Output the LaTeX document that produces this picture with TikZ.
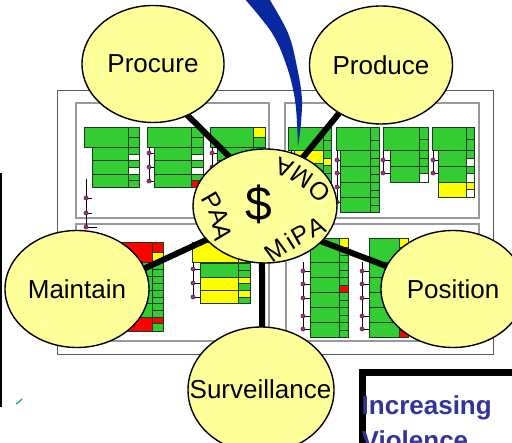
\documentclass[tikz,border=0pt]{standalone}
\usepackage{fontspec}
\setmainfont{Liberation Sans}
\usetikzlibrary{shapes.geometric}
\definecolor{ell}{HTML}{FFFF99}
\definecolor{cg}{HTML}{33CC33}
\definecolor{cy}{HTML}{FFFF00}
\definecolor{cr}{HTML}{FF0000}
\definecolor{cedge}{HTML}{1E3A1E}
\definecolor{dotc}{HTML}{A03080}
\definecolor{swoosh}{RGB}{8,40,160}
\definecolor{vblue}{HTML}{333399}
\definecolor{markc}{RGB}{0,160,160}
\pgfdeclarelayer{charts}
\pgfdeclarelayer{links}
\pgfsetlayers{charts,links,main}
\tikzset{
  bubble/.style={ellipse, draw=black, line width=1.4, fill=ell, inner sep=0, font=\fontsize{26}{30}\selectfont},
  gcell/.style={fill=cg, draw=cedge, line width=0.6},
  ycell/.style={fill=cy, draw=cedge, line width=0.6},
  rcell/.style={fill=cr, draw=cedge, line width=0.6},
  wcell/.style={fill=white, draw=cedge, line width=0.6},
  frame/.style={draw=black!65, line width=0.9},
  panel/.style={draw=black!40, line width=1.3},
  orgline/.style={draw=black, line width=0.7},
  link/.style={line width=6, shorten <=-6pt, shorten >=-6pt},
  letter/.style={font=\fontsize{25}{30}\selectfont, inner sep=0},
}
\newcommand\orgdot[3]{\draw[orgline] (#1,#2) -- (#3,#2);
  \filldraw[fill=dotc, draw=dotc!50!black, line width=0.4] (#1,#2) circle (2.1);}
\begin{document}
\begin{tikzpicture}[x=1pt,y=-1pt]
\useasboundingbox (0,0) rectangle (512,443);
\begin{pgfonlayer}{charts}
\fill[white] (0,0) rectangle (512,443);
% frames
\draw[frame] (57,90) rectangle (493,354);
\draw[panel] (76,103) rectangle (269,218);
\draw[panel] (285,103) rectangle (479,218);
\draw[panel] (76,224) rectangle (269,341);
\draw[panel] (286,224) rectangle (479,341);
% ---- A1
\draw[gcell] (84,127) rectangle (128,147);
\draw[gcell] (128,127) rectangle (139,137);
\draw[gcell] (128,137) rectangle (139,147);
\foreach \a/\b in {147/160,160/174,174/187} \draw[gcell] (92,\a) rectangle (128,\b);
\foreach \a/\b/\s in {147/154/gcell,154/160/wcell,160/167/gcell,167/174/wcell,174/180/gcell,180/187/gcell}
  \draw[\s] (128,\a) rectangle (139,\b);
\draw[orgline] (86,179) -- (86,227);
\orgdot{86}{198}{92}\orgdot{86}{213}{92}\orgdot{86}{227}{97}
% ---- A2
\draw[gcell] (147,127) rectangle (191,147);
\draw[gcell] (191,127) rectangle (203,137);
\draw[gcell] (191,137) rectangle (203,147);
\foreach \a/\b in {147/160,160/174,174/187} \draw[gcell] (154,\a) rectangle (191,\b);
\foreach \a/\b/\s in {147/154/gcell,154/160/wcell,160/167/gcell,167/174/wcell,174/180/gcell,180/187/rcell}
  \draw[\s] (191,\a) rectangle (203,\b);
\draw[orgline] (149,147) -- (149,181);
\orgdot{149}{153}{154}\orgdot{149}{167}{154}\orgdot{149}{181}{154}
% ---- A3
\draw[gcell] (210,127) rectangle (253,147);
\draw[ycell] (253,127) rectangle (265,137);
\draw[gcell] (253,137) rectangle (265,147);
\draw[gcell] (217,147) rectangle (253,160);
\draw[ycell] (217,160) rectangle (253,174);
\draw[gcell] (217,174) rectangle (253,187);
\foreach \a/\b/\s in {147/154/gcell,154/160/wcell,160/167/gcell,167/174/ycell,174/187/gcell}
  \draw[\s] (253,\a) rectangle (265,\b);
\draw[orgline] (212,147) -- (212,167);
\orgdot{212}{153}{217}\orgdot{212}{167}{217}
% ---- B1
\draw[gcell] (288,127) rectangle (323,150);
\draw[gcell] (323,127) rectangle (331,140);
\draw[gcell] (323,140) rectangle (331,150);
\draw[ycell] (294,150) rectangle (323,163);
\draw[gcell] (294,163) rectangle (323,176);
\draw[gcell] (294,176) rectangle (323,189);
\foreach \a/\b/\s in {150/158/gcell,158/165/ycell,165/173/gcell,173/181/gcell,181/189/gcell}
  \draw[\s] (323,\a) rectangle (331,\b);
\draw[orgline] (291,150) -- (291,176);
% ---- B2
\draw[gcell] (336,127) rectangle (370,150);
\draw[gcell] (370,127) rectangle (379,140);
\draw[gcell] (370,140) rectangle (379,150);
\foreach \a/\b in {150/166,166/182,182/197,197/212} \draw[gcell] (340,\a) rectangle (370,\b);
\foreach \a/\b in {150/158,158/166,166/174,174/182,182/190,190/197,197/205,205/212}
  \draw[gcell] (370,\a) rectangle (379,\b);
\draw[orgline] (337,150) -- (337,202);
\orgdot{337}{160}{340}\orgdot{337}{173}{340}\orgdot{337}{187}{340}\orgdot{337}{202}{340}
% ---- B3
\draw[gcell] (383,127) rectangle (419,150);
\draw[gcell] (419,127) rectangle (428,139);
\draw[gcell] (419,139) rectangle (428,150);
\foreach \a/\b in {150/166,166/182} \draw[gcell] (390,\a) rectangle (419,\b);
\foreach \a/\b/\s in {150/158/gcell,158/166/gcell,166/173/gcell,173/182/wcell}
  \draw[\s] (419,\a) rectangle (428,\b);
\draw[orgline] (383,150) -- (383,173);
\orgdot{383}{160}{390}\orgdot{383}{173}{390}
% ---- B4
\draw[gcell] (432,127) rectangle (466,150);
\draw[gcell] (466,127) rectangle (474,139);
\draw[gcell] (466,139) rectangle (474,150);
\draw[gcell] (438,150) rectangle (466,166);
\draw[gcell] (438,166) rectangle (466,182);
\draw[ycell] (438,182) rectangle (466,197);
\foreach \a/\b/\s in {150/158/gcell,158/166/wcell,166/173/gcell,173/182/wcell,182/189/ycell,189/197/wcell}
  \draw[\s] (466,\a) rectangle (474,\b);
\draw[orgline] (433,150) -- (433,173);
\orgdot{433}{160}{438}\orgdot{433}{173}{438}
% ---- C1
\draw[rcell] (110,242) rectangle (152,262);
\draw[rcell] (152,242) rectangle (163,252);
\draw[ycell] (152,252) rectangle (163,262);
\foreach \a/\b in {262/276,276/290,290/303,303/317} \draw[gcell] (113,\a) rectangle (152,\b);
\draw[rcell] (113,317) rectangle (152,331);
\foreach \a/\b/\s in {262/269/gcell,269/276/gcell,276/283/gcell,283/290/gcell,290/297/gcell,297/303/gcell,303/310/gcell,310/317/gcell,317/323/rcell,323/331/gcell}
  \draw[\s] (152,\a) rectangle (163,\b);
% ---- C2
\draw[ycell] (192,242) rectangle (238,262);
\draw[ycell] (238,242) rectangle (250,262);
\draw[gcell] (200,263) rectangle (238,277);
\draw[ycell] (200,277) rectangle (238,290);
\draw[ycell] (200,290) rectangle (238,303);
\foreach \a/\b/\s in {263/270/gcell,270/277/gcell,277/283/ycell,283/290/gcell,290/297/ycell,297/303/gcell}
  \draw[\s] (238,\a) rectangle (250,\b);
\draw[orgline] (193,262) -- (193,297);
\orgdot{193}{269}{200}\orgdot{193}{283}{200}\orgdot{193}{297}{200}
% ---- D1, D2
\foreach \xl/\xm/\xr/\xo/\rr in {310/339/348/303/285, 369/399/408/362/330}{
  \draw[gcell] (\xl,238) rectangle (\xm,262);
  \draw[ycell] (\xm,238) rectangle (\xr,247);
  \draw[gcell] (\xm,247) rectangle (\xr,255);
  \draw[gcell] (\xm,255) rectangle (\xr,262);
  \foreach \a/\b in {262/277,277/292,292/307,307/322,322/337} \draw[gcell] (\xl,\a) rectangle (\xm,\b);
  \foreach \a/\b in {262/270,270/277,277/285,285/292,292/300,300/307,307/315,315/322,322/330,330/337}
    \draw[gcell] (\xm,\a) rectangle (\xr,\b);
  \draw[rcell] (\xm,\rr) rectangle (\xr,\rr+7);
  \draw[orgline] (\xo,262) -- (\xo,329);
  \foreach \d in {271,284,298,316,329} {\orgdot{\xo}{\d}{\xl}}
}
% left edge marks
\draw[black, line width=2.5] (1,173) -- (1,407);
\draw[markc, line width=1.2] (16,404) -- (19,402) -- (22,399);
\end{pgfonlayer}
% ---- bubbles
\node[bubble, minimum width=142, minimum height=117] (procure) at (153,64) {Procure};
\node[bubble, minimum width=143, minimum height=118] (produce) at (381,65) {Produce};
\node[bubble, minimum width=144, minimum height=114] (money) at (265,206) {};
\node[bubble, minimum width=144, minimum height=117] (maintain) at (77,289) {Maintain};
\node[bubble, minimum width=144, minimum height=117] (position) at (453,289) {Position};
\node[bubble, minimum width=146, minimum height=126] (surv) at (261,390) {};
\node[inner sep=0, font=\fontsize{26}{30}\selectfont] (survtext) at (260.5,389) {Surveillance};
\node[inner sep=0, font=\fontsize{48}{52}\selectfont] (dollar) at (259,204) {\$};
% curved labels
\node[letter, rotate=-60] (paa1) at (212,201) {P};
\node[letter, rotate=-71] (paa2) at (219,217) {A};
\node[letter, rotate=-81] (paa3) at (222,232) {A};
\node[letter, rotate=36] (mipa1) at (276,250) {M};
\node[letter, rotate=32] (mipa2) at (290,241) {i};
\node[letter, rotate=29] (mipa3) at (301,235) {P};
\node[letter, rotate=25] (mipa4) at (316,227) {A};
\node[letter, rotate=133] (oma1) at (320,191) {O};
\node[letter, rotate=147] (oma2) at (302,177) {M};
\node[letter, rotate=160] (oma3) at (284,168) {A};
% ---- links
\begin{pgfonlayer}{links}
\draw[link] (procure.-56) -- (money.126);
\draw[link] (produce.-131) -- (money.52);
\draw[link] (maintain.17) -- (money.-150);
\draw[link] (money.-32) -- (position.161);
\draw[link] (money.-93) -- (surv.89);
\end{pgfonlayer}
% ---- swoosh
\fill[swoosh] plot[smooth, tension=0.6] coordinates {(243,-3) (272,33) (287,67) (295,100) (297.5,133) (298,146)}
  -- plot[smooth, tension=0.6] coordinates {(300,133) (302,100) (297,67) (288,33) (268,-3)} -- cycle;
% ---- Increasing Violence box
\node[draw=black, line width=7, fill=white, anchor=north west, minimum width=200, minimum height=120, inner sep=0] (vbox) at (359,369.5) {};
\node[anchor=base west, inner sep=0, text=vblue, font=\bfseries\fontsize{26}{30}\selectfont] (vt1) at (361.5,415) {Increasing};
\node[anchor=base west, inner sep=0, text=vblue, font=\bfseries\fontsize{26}{30}\selectfont] (vt2) at (361.5,450) {Violence};
\end{tikzpicture}
\end{document}
